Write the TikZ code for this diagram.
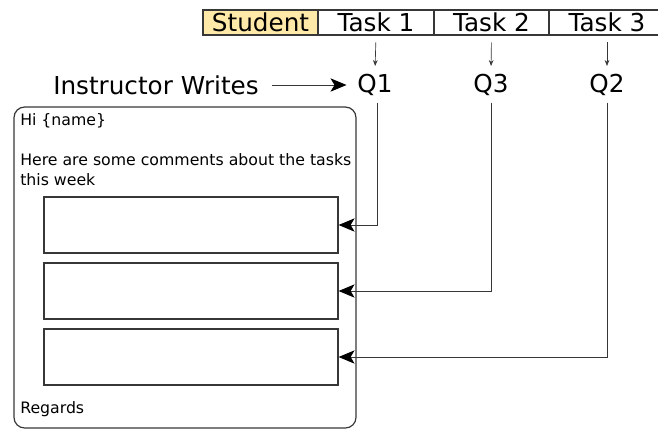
\documentclass[tikz,border=0pt]{standalone}
\usepackage{fontspec}
\setmainfont{DejaVu Sans}
\usepackage{xcolor}
\usetikzlibrary{arrows.meta, positioning}
\definecolor{studentfill}{RGB}{255,233,168}
\definecolor{linegray}{RGB}{55,55,55}

\begin{document}
\begin{tikzpicture}[x=0.75pt, y=-0.75pt]
        % Define styles
        \tikzstyle{cell} = [rectangle, draw=linegray, line width=0.9pt, minimum height=18.75pt, inner sep=0pt, font=\fontsize{18.5}{20}\selectfont]
        \tikzstyle{qlabel} = [inner sep=2pt, font=\fontsize{18.5}{20}\selectfont]
        \tikzstyle{letter} = [rectangle, rounded corners=8pt, draw=linegray, line width=0.9pt, minimum width=256.5pt, minimum height=240.75pt]
        \tikzstyle{slot} = [rectangle, draw=linegray, line width=0.9pt, minimum width=220.5pt, minimum height=42pt]
        \tikzstyle{bodytext} = [anchor=west, align=left, inner sep=0pt, font=\fontsize{11.8}{15}\selectfont]
        \tikzstyle{pick} = [-{Stealth[length=4.5pt, width=3.5pt]}, linegray, line width=0.5pt]
        \tikzstyle{arrow} = [-{Stealth[length=12pt, width=10pt, inset=3pt, black]}, linegray, line width=0.7pt]

        \useasboundingbox (0,0) rectangle (658,430);

        % Header row
        \node[cell, fill=studentfill, minimum width=86.25pt] (student) at (260.5, 22.5) {Student};
        \node[cell, minimum width=87pt] (t1) at (376, 22.5) {Task 1};
        \node[cell, minimum width=86.25pt] (t2) at (491.5, 22.5) {Task 2};
        \node[cell, minimum width=87pt] (t3) at (607, 22.5) {Task 3};

        % Questions
        \node[qlabel] (q1) at (375, 85) {Q1};
        \node[qlabel] (q3) at (491, 85) {Q3};
        \node[qlabel] (q2) at (607, 85) {Q2};
        \node[qlabel] (instr) at (156, 85) {Instructor Writes};

        % Email
        \node[letter] (mail) at (185, 267.5) {};
        \node[bodytext] (hi) at (20, 121) {Hi \{name\}};
        \node[bodytext] (intro) at (20, 170) {Here are some comments about the tasks\\this week};
        \node[slot] (b1) at (191, 225) {};
        \node[slot] (b2) at (191, 291) {};
        \node[slot] (b3) at (191, 357) {};
        \node[bodytext] (regards) at (20, 409) {Regards};

        % Connections
        \draw[pick, shorten <=5pt, shorten >=4pt] (t1.south) -- (q1.north);
        \draw[pick, shorten <=5pt, shorten >=4pt] (t2.south) -- (q3.north);
        \draw[pick, shorten <=5pt, shorten >=4pt] (t3.south) -- (q2.north);
        \draw[arrow, shorten <=8pt, shorten >=6pt] (instr.east) -- (q1.west);
        \draw[arrow, shorten <=3pt] ([xshift=1.5pt]q1.south) |- (b1.east);
        \draw[arrow, shorten <=3pt] (q3.south) |- (b2.east);
        \draw[arrow, shorten <=3pt] (q2.south) |- (b3.east);

\end{tikzpicture}
\end{document}
